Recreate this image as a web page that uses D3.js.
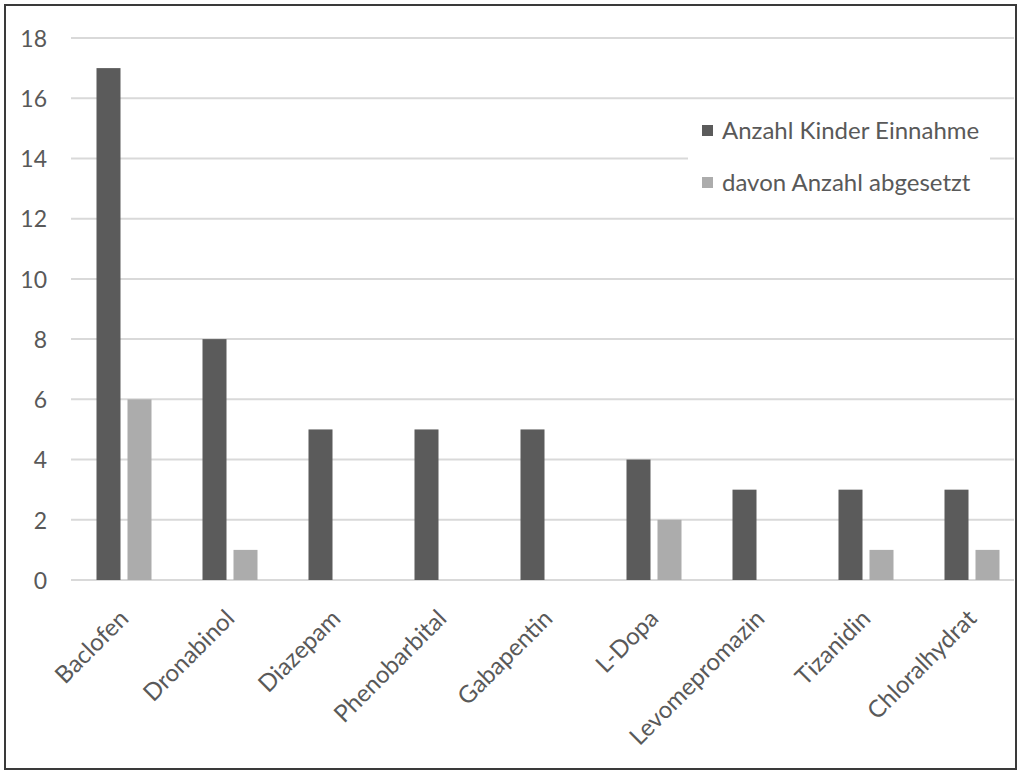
<!DOCTYPE html>
<html>
<head>
<meta charset="utf-8">
<script src="https://cdn.jsdelivr.net/npm/d3@7"></script>
<style>
  html, body { margin: 0; padding: 0; background: #fff; }
  svg { display: block; }
  text { font-family: Lato, "Open Sans", sans-serif; fill: #595959; }
</style>
</head>
<body>
<svg id="chart" width="1021" height="771"></svg>
<script>
// Medications and counts of children
const categories = ["Baclofen", "Dronabinol", "Diazepam", "Phenobarbital", "Gabapentin",
                    "L-Dopa", "Levomepromazin", "Tizanidin", "Chloralhydrat"];
const seriesNames = ["Anzahl Kinder Einnahme", "davon Anzahl abgesetzt"];
const einnahme  = [17, 8, 5, 5, 5, 4, 3, 3, 3];
const abgesetzt = [6, 1, 0, 0, 0, 2, 0, 1, 1];
const yTicks = [0, 2, 4, 6, 8, 10, 12, 14, 16, 18];
const colors = ["#5b5b5b", "#acacac"];

const svg = d3.select("#chart");

const plot = { left: 71, right: 1025, top: 38, bottom: 580 };

const x = d3.scaleBand().domain(categories).range([plot.left, plot.right]).padding(0);
const y = d3.scaleLinear().domain([0, 18]).range([plot.bottom, plot.top]);

const barW = 24, gap = 7;

// gridlines
svg.append("g")
  .selectAll("line")
  .data(yTicks)
  .join("line")
  .attr("x1", plot.left)
  .attr("x2", 1014)
  .attr("y1", d => y(d))
  .attr("y2", d => y(d))
  .attr("stroke", "#d9d9d9")
  .attr("stroke-width", 2);

// y axis labels
const yAxis = d3.axisLeft(y).tickValues(yTicks).tickSize(0).tickPadding(0);
const gy = svg.append("g").attr("transform", "translate(47,0)").call(yAxis);
gy.select(".domain").remove();
gy.selectAll("text")
  .attr("font-size", 23)
  .attr("dy", "0.36em")
  .style("font-family", "Lato, 'Open Sans', sans-serif")
  .attr("fill", "#595959");

// bars
const series = [einnahme, abgesetzt];
series.forEach((vals, si) => {
  svg.append("g")
    .selectAll("rect")
    .data(categories.map((c, i) => ({ c, v: vals[i] })).filter(d => d.v > 0))
    .join("rect")
    .attr("x", d => x(d.c) + x.bandwidth() / 2 - barW - gap / 2 + si * (barW + gap))
    .attr("y", d => y(d.v))
    .attr("width", barW)
    .attr("height", d => y(0) - y(d.v))
    .attr("fill", colors[si]);
});

// x axis labels, rotated
const xAxis = d3.axisBottom(x).tickSize(0).tickPadding(0);
const gx = svg.append("g").attr("transform", `translate(0,${plot.bottom})`).call(xAxis);
gx.select(".domain").remove();
gx.selectAll("text")
  .attr("font-size", 24)
  .attr("text-anchor", "end")
  .attr("dy", 0)
  .attr("y", 0)
  .attr("transform", "translate(6,40) rotate(-45)")
  .style("font-family", "Lato, 'Open Sans', sans-serif")
  .attr("fill", "#595959");

// legend with white background
const lg = svg.append("g");
lg.append("rect").attr("x", 688).attr("y", 106).attr("width", 302).attr("height", 100).attr("fill", "#fff");
seriesNames.forEach((name, i) => {
  const cy = 130 + i * 52;
  lg.append("rect").attr("x", 702).attr("y", cy - 5).attr("width", 11).attr("height", 11).attr("fill", colors[i]);
  lg.append("text").attr("x", 722).attr("y", cy).attr("dy", "0.36em")
    .attr("font-size", 24).text(name);
});

// outer frame
svg.append("rect").attr("x", 5).attr("y", 5).attr("width", 1011).attr("height", 764)
  .attr("fill", "none").attr("stroke", "#3a3a3a").attr("stroke-width", 2);
</script>
</body>
</html>
